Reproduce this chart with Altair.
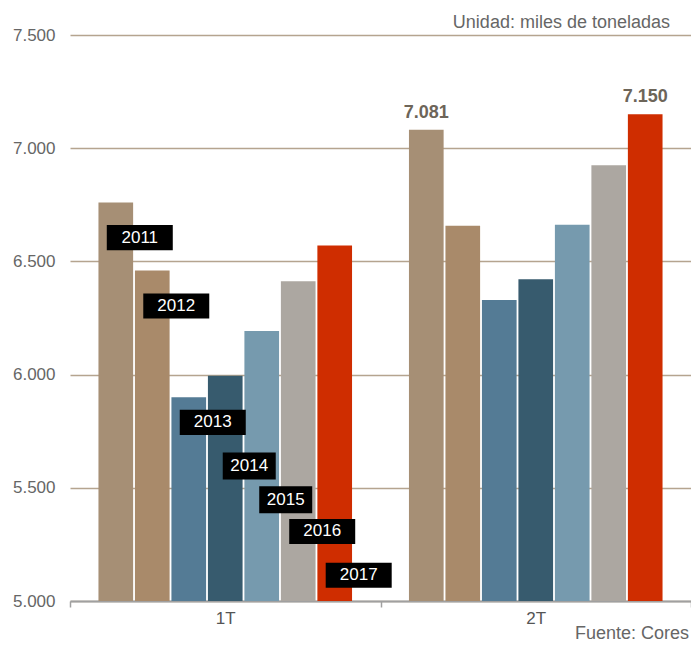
import altair as alt
import pandas as pd

# ---- data ----
quarters = ["1T", "2T"]
years = ["2011", "2012", "2013", "2014", "2015", "2016", "2017"]
values_1t = [6760, 6460, 5900, 5995, 6193, 6412, 6570]
values_2t = [7081, 6658, 6329, 6421, 6662, 6925, 7150]
colors = ["#a68f75", "#a98a6a", "#547b95", "#375b6e", "#769aae", "#aca7a1", "#cf2d00"]
labelled = [("2T", "2011"), ("2T", "2017")]
# anchor (in data units) of the year tags drawn over the 1T group
tag_y = [6605, 6303, 5789, 5596, 5447, 5307, 5114]
y_ticks = [5000, 5500, 6000, 6500, 7000, 7500]
y_min, y_max = 5000, 7500
unit_note = ["Unidad: miles de toneladas"]
source_note = ["Fuente: Cores"]

FONT = "Liberation Sans, Arial, Helvetica, sans-serif"
W, H = 621, 566


def es_fmt(v):
    return f"{v:,}".replace(",", ".")


rows = []
for q, vals in zip(quarters, [values_1t, values_2t]):
    for y, v in zip(years, vals):
        rows.append({"quarter": q, "year": y, "value": v,
                     "label": es_fmt(v) if (q, y) in labelled else ""})
df = pd.DataFrame(rows)

tag_df = pd.DataFrame({"quarter": ["1T"] * len(years), "year": years, "pos": tag_y})

x_enc = alt.X(
    "quarter:N",
    title=None,
    scale=alt.Scale(domain=quarters, paddingInner=0, paddingOuter=0),
    axis=alt.Axis(
        labelAngle=0, labelFontSize=17, labelColor="#555555", labelPadding=3,
        tickBand="extent", tickSize=6, tickColor="#a0a0a0", tickWidth=1.5,
        domainColor="#a0a0a0", domainWidth=2, grid=False,
    ),
)
xo_enc = alt.XOffset("year:N", scale=alt.Scale(domain=years, paddingInner=0.05, paddingOuter=0.78))
y_scale = alt.Scale(domain=[y_min, y_max], nice=False, zero=False)

bars = alt.Chart(df).mark_bar().encode(
    x=x_enc,
    xOffset=xo_enc,
    y=alt.Y(
        "value:Q", title=None, scale=y_scale,
        axis=alt.Axis(
            values=y_ticks, domain=False, ticks=False, labelPadding=15,
            labelFontSize=17, labelColor="#666666",
            labelExpr="replace(format(datum.value, ','), ',', '.')",
            gridColor="#b5a48f", gridWidth=1.5,
        ),
    ),
    y2=alt.datum(y_min),
    color=alt.Color("year:N", scale=alt.Scale(domain=years, range=colors), legend=None),
)

value_labels = alt.Chart(df).transform_filter(alt.datum.label != "").mark_text(
    font=FONT, fontWeight="bold", fontSize=18, color="#6d6559", dy=-12, baseline="alphabetic"
).encode(
    x=alt.X("quarter:N", title=None),
    xOffset="year:N",
    y=alt.Y("value:Q", title=None),
    text="label:N",
)

# black tag boxes: shape paths shifted right of the bar centre (same shift as the text dx)
narrow = alt.FieldOneOfPredicate(field="year", oneOf=["2014", "2015"])
tag_boxes = alt.Chart(tag_df).mark_point(
    filled=True, opacity=1, color="black", strokeWidth=0
).encode(
    x=alt.X("quarter:N", title=None),
    xOffset="year:N",
    y=alt.Y("pos:Q", title=None),
    shape=alt.condition(
        narrow,
        alt.value("M-0.076,-0.41L1.53,-0.41L1.53,0.41L-0.076,0.41Z"),
        alt.value("M-0.273,-0.38L1.727,-0.38L1.727,0.38L-0.273,0.38Z"),
    ),
    size=alt.value(4356),
)

tag_text = alt.Chart(tag_df).mark_text(
    font=FONT, fontSize=17, color="white", dx=24, baseline="middle"
).encode(
    x=alt.X("quarter:N", title=None),
    xOffset="year:N",
    y=alt.Y("pos:Q", title=None),
    text="year:N",
)

unit_text = alt.Chart(pd.DataFrame({"t": unit_note})).mark_text(
    font=FONT, fontSize=18, color="#666666", align="right", baseline="alphabetic"
).encode(text="t:N", x=alt.value(W - 21), y=alt.value(-7))

source_text = alt.Chart(pd.DataFrame({"t": source_note})).mark_text(
    font=FONT, fontSize=18, color="#666666", align="right", baseline="alphabetic"
).encode(text="t:N", x=alt.value(W - 2), y=alt.value(H + 38))

chart = alt.layer(bars, value_labels, tag_boxes, tag_text, unit_text, source_text).properties(
    width=W,
    height=H,
    autosize=alt.AutoSizeParams(type="none"),
    padding={"left": 62, "top": 27, "right": 0, "bottom": 44},
).configure_view(stroke=None).configure_axis(
    labelFont=FONT, titleFont=FONT
).configure_text(font=FONT)

chart.save("out.html", embed_options={"renderer": "svg", "actions": False})
